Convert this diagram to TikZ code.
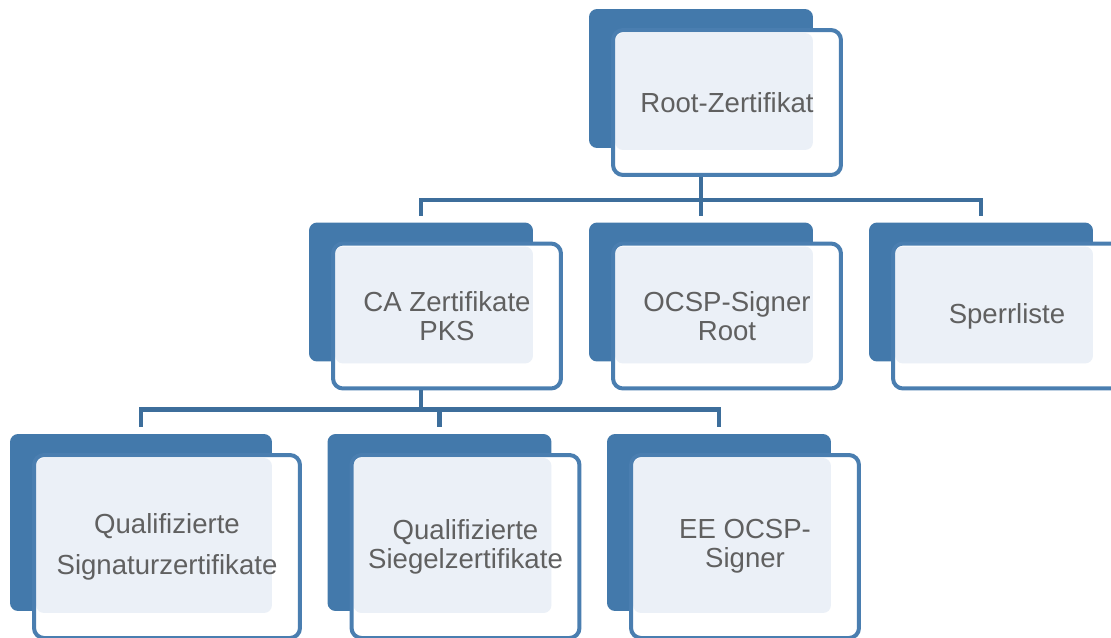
\documentclass[tikz,border=0pt]{standalone}
\usepackage{fontspec}
\setmainfont{Liberation Sans}
\usetikzlibrary{backgrounds}

\definecolor{cardblue}{HTML}{4379AB}
\definecolor{cardedge}{HTML}{4A7EB0}
\definecolor{cardlight}{HTML}{EBF0F7}
\definecolor{linkblue}{HTML}{3D6E9B}
\definecolor{cardtext}{HTML}{606060}

\begin{document}
\begin{tikzpicture}[x=0.02cm, y=0.02cm,
	card/.style={draw=cardedge, line width=0.08cm, rounded corners=0.2cm, minimum width=4.56cm, minimum height=2.9cm, align=center, text=cardtext, font=\fontsize{15.7}{16.5}\selectfont},
	widecard/.style={minimum width=5.32cm, minimum height=3.66cm},
	tallcard/.style={minimum width=4.56cm, minimum height=3.66cm},
	backcard/.style={fill=cardblue, rounded corners=0.16cm},
	innercard/.style={fill=cardlight, rounded corners=0.16cm},
	link/.style={draw=linkblue, line width=0.09cm}]
	\useasboundingbox (0,0) rectangle (1111,-637);
	\clip (0,0) rectangle (1111,-637);

	\node[card] (root) at (727,-102.5) {Root-Zertifikat};

	\node[card] (ca) at (447,-316) {CA Zertifikate\\PKS};
	\node[card] (ocsp) at (727,-316) {OCSP-Signer\\Root};
	\node[card] (sperr) at (1007,-316) {Sperrliste};

	\node[card, widecard] (sig) at (167,-546.5) {Qualifizierte\\[0.24cm]Signaturzertifikate};
	\node[card, tallcard] (siegel) at (465.5,-546.5) {Qualifizierte\\Siegelzertifikate};
	\node[card, tallcard] (eeocsp) at (745,-546.5) {EE OCSP-\\Signer};

	\begin{pgfonlayer}{background}
	\foreach \n in {root,ca,ocsp,sperr,sig,siegel,eeocsp} {
		\fill[backcard] ([shift={(-22,19)}]\n.north west) rectangle ([shift={(-30,29)}]\n.south east);
		\fill[white, rounded corners=0.2cm] ([shift={(2,-2)}]\n.north west) rectangle ([shift={(-2,2)}]\n.south east);
		\fill[innercard] ([shift={(4,-5)}]\n.north west) rectangle ([shift={(-30,27)}]\n.south east);
	}
	\end{pgfonlayer}

	% root -> second row
	\draw[link] ([shift={(-26,0)}]root.south) -- ++(0,-23) coordinate (rootbar);
	\foreach \c in {ca,ocsp,sperr}
		\draw[link] (rootbar) -| ([shift={(-26,26)}]\c.north);

	% CA -> third row
	\draw[link] ([shift={(-26,0)}]ca.south) -- ++(0,-19) coordinate (cabar);
	\foreach \c in {sig,siegel,eeocsp}
		\draw[link] (cabar) -| ([shift={(-26,26)}]\c.north);
\end{tikzpicture}
\end{document}
